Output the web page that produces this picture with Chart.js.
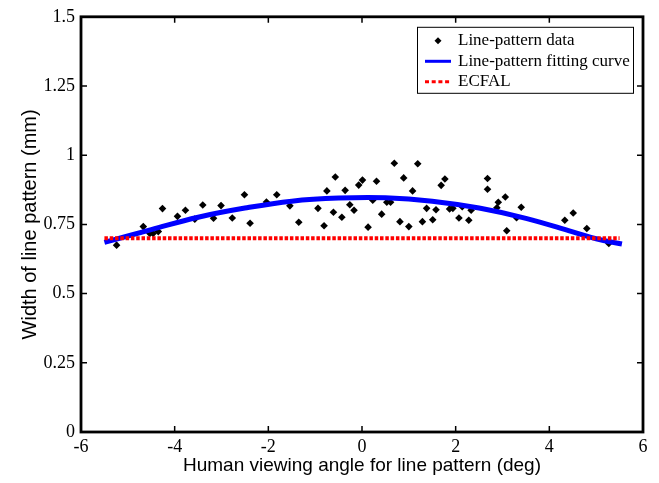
<!DOCTYPE html>
<html>
<head>
<meta charset="utf-8">
<title>Width of line pattern</title>
<script src="https://cdn.jsdelivr.net/npm/chart.js@4.4.1/dist/chart.umd.min.js"></script>
<style>
    html, body { margin: 0; padding: 0; background: #fff; }
    canvas { display: block; }
</style>
</head>
<body>
<canvas id="widthChart" width="659" height="483"></canvas>
<script>
// ====== Data ======
const dataX = [-5.24, -4.67, -4.53, -4.46, -4.35, -4.26, -3.94, -3.77, -3.57, -3.40, -3.17, -3.01, -2.77, -2.51, -2.39,
    -2.04, -1.82, -1.54, -1.35, -0.94, -0.81, -0.75, -0.61, -0.57, -0.43, -0.36, -0.26, -0.17, -0.07, 0.01,
    0.13, 0.23, 0.31, 0.42, 0.53, 0.61, 0.69, 0.81, 0.89, 1.00, 1.08, 1.19, 1.29, 1.38, 1.51,
    1.58, 1.69, 1.77, 1.87, 1.94, 2.07, 2.14, 2.28, 2.33, 2.68, 2.68, 2.88, 2.91, 3.06, 3.09,
    3.30, 3.40, 4.33, 4.51, 4.80, 5.27];
const dataY = [0.675, 0.742, 0.717, 0.717, 0.724, 0.807, 0.779, 0.801, 0.769, 0.820, 0.772, 0.818, 0.773, 0.857, 0.754,
    0.831, 0.857, 0.817, 0.758, 0.808, 0.745, 0.871, 0.794, 0.921, 0.776, 0.873, 0.821, 0.801, 0.892, 0.910,
    0.740, 0.837, 0.906, 0.787, 0.830, 0.830, 0.971, 0.760, 0.918, 0.742, 0.871, 0.969, 0.760, 0.808, 0.767,
    0.803, 0.891, 0.914, 0.806, 0.808, 0.773, 0.814, 0.765, 0.801, 0.916, 0.877, 0.810, 0.830, 0.849, 0.727,
    0.774, 0.812, 0.765, 0.791, 0.735, 0.681];

const fitX = [-5.5, -4.5, -3.5, -2.5, -1.5, -0.5, 0.5, 1.5, 2.5, 3.5, 4.5, 5.0, 5.55];
const fitY = [0.685, 0.731, 0.776, 0.809, 0.834, 0.845, 0.846, 0.834, 0.809, 0.772, 0.723, 0.698, 0.679];

const ecfalX = [-5.5, 5.5];
const ecfalY = [0.7, 0.7];

const xTicks = [-6, -4, -2, 0, 2, 4, 6];
const yTicks = [0, 0.25, 0.5, 0.75, 1, 1.25, 1.5];
const legendLabels = ['Line-pattern data', 'Line-pattern fitting curve', 'ECFAL'];

const toPoints = (xs, ys) => xs.map((x, i) => ({ x: x, y: ys[i] }));

// ====== Frame, inward ticks and boxed legend (MATLAB look) ======
const framePlugin = {
    id: 'frame',
    afterDraw(chart) {
        const { ctx, chartArea: a, scales: { x, y } } = chart;
        ctx.save();
        ctx.strokeStyle = '#000';
        ctx.lineWidth = 1.5;
        ctx.beginPath();
        xTicks.forEach(v => {
            const px = x.getPixelForValue(v);
            ctx.moveTo(px, a.bottom); ctx.lineTo(px, a.bottom - 6);
            ctx.moveTo(px, a.top); ctx.lineTo(px, a.top + 6);
        });
        yTicks.forEach(v => {
            const py = y.getPixelForValue(v);
            ctx.moveTo(a.left, py); ctx.lineTo(a.left + 6, py);
            ctx.moveTo(a.right, py); ctx.lineTo(a.right - 6, py);
        });
        ctx.stroke();
        ctx.lineWidth = 2.8;
        ctx.strokeRect(a.left, a.top, a.right - a.left, a.bottom - a.top);

        // legend
        const w = 216, h = 66;
        const bx = a.right - 10 - w, by = a.top + 10;
        ctx.fillStyle = '#fff';
        ctx.fillRect(bx, by, w, h);
        ctx.lineWidth = 1;
        ctx.strokeRect(bx + 0.5, by + 0.5, w, h);
        const rows = [by + 14, by + 34.5, by + 55];
        const ds = chart.data.datasets;

        // row 1: marker
        ctx.fillStyle = '#000';
        ctx.beginPath();
        ctx.moveTo(bx + 21, rows[0] - 3.5);
        ctx.lineTo(bx + 24.5, rows[0]);
        ctx.lineTo(bx + 21, rows[0] + 3.5);
        ctx.lineTo(bx + 17.5, rows[0]);
        ctx.closePath();
        ctx.fill();

        // row 2: blue line
        ctx.strokeStyle = ds[1].borderColor;
        ctx.lineWidth = 3;
        ctx.beginPath();
        ctx.moveTo(bx + 8, rows[1]); ctx.lineTo(bx + 34, rows[1]);
        ctx.stroke();

        // row 3: red dotted
        ctx.strokeStyle = ds[0].borderColor;
        ctx.setLineDash([4, 2.7]);
        ctx.beginPath();
        ctx.moveTo(bx + 8, rows[2]); ctx.lineTo(bx + 34, rows[2]);
        ctx.stroke();
        ctx.setLineDash([]);

        ctx.fillStyle = '#000';
        ctx.font = '17px "Liberation Serif", "Times New Roman", serif';
        ctx.textBaseline = 'middle';
        ctx.textAlign = 'left';
        legendLabels.forEach((t, i) => ctx.fillText(t, bx + 41, rows[i]));
        ctx.restore();
    }
};

// ====== Chart ======
new Chart(document.getElementById('widthChart'), {
    type: 'scatter',
    data: {
        datasets: [
            {
                label: legendLabels[2],
                data: toPoints(ecfalX, ecfalY),
                showLine: true,
                borderColor: '#ff0000',
                borderWidth: 4,
                borderDash: [3.5, 1.8],
                borderCapStyle: 'butt',
                pointRadius: 0,
                order: 0
            },
            {
                label: legendLabels[1],
                data: toPoints(fitX, fitY),
                showLine: true,
                borderColor: '#0000ff',
                borderWidth: 5,
                tension: 0.4,
                pointRadius: 0,
                order: 1
            },
            {
                label: legendLabels[0],
                data: toPoints(dataX, dataY),
                pointStyle: 'rectRot',
                pointRadius: 3.8,
                backgroundColor: '#000',
                borderColor: '#000',
                borderWidth: 0,
                order: 2
            }
        ]
    },
    options: {
        responsive: false,
        animation: false,
        layout: { padding: { top: 15, right: 16, left: 0, bottom: 0 } },
        plugins: {
            legend: { display: false },
            tooltip: { enabled: false }
        },
        scales: {
            x: {
                type: 'linear',
                min: -6,
                max: 6,
                afterBuildTicks: s => { s.ticks = xTicks.map(v => ({ value: v })); },
                afterFit: s => { s.height = 51; },
                grid: { display: false, drawTicks: false },
                border: { display: false },
                ticks: {
                    color: '#000',
                    padding: 4,
                    maxRotation: 0,
                    font: { family: '"Liberation Serif", "Times New Roman", serif', size: 18 },
                    callback: v => String(v)
                },
                title: {
                    display: true,
                    text: 'Human viewing angle for line pattern (deg)',
                    color: '#000',
                    padding: { top: 0, bottom: 6 },
                    font: { family: '"Liberation Sans", Arial, sans-serif', size: 19 }
                }
            },
            y: {
                type: 'linear',
                min: 0,
                max: 1.5,
                afterBuildTicks: s => { s.ticks = yTicks.map(v => ({ value: v })); },
                afterFit: s => { s.width = 81; },
                grid: { display: false, drawTicks: false },
                border: { display: false },
                ticks: {
                    color: '#000',
                    padding: 6,
                    font: { family: '"Liberation Serif", "Times New Roman", serif', size: 18 },
                    callback: v => String(v)
                },
                title: {
                    display: true,
                    text: 'Width of line pattern (mm)',
                    color: '#000',
                    padding: { top: 18, bottom: 0 },
                    font: { family: '"Liberation Sans", Arial, sans-serif', size: 20 }
                }
            }
        }
    },
    plugins: [framePlugin]
});
</script>
</body>
</html>
